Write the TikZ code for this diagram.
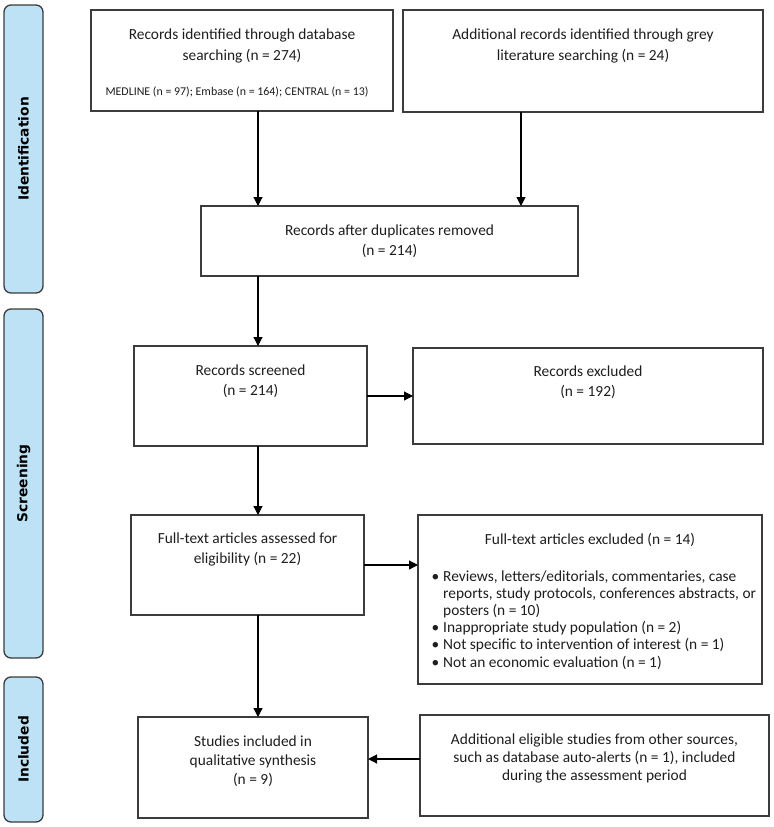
\documentclass[tikz,border=0pt]{standalone}
\usepackage{fontspec}
\setmainfont{Carlito}
\newfontfamily\sidefont{DejaVu Sans}
\usetikzlibrary{arrows.meta,calc}
\definecolor{sidebl}{RGB}{189,226,245}
\definecolor{edgec}{RGB}{60,60,60}
\definecolor{txtc}{RGB}{30,30,30}
\newcommand{\mlines}[1]{\begin{tabular}[t]{@{}c@{}}#1\end{tabular}}
\newcommand{\blines}[1]{\begin{tabular}[t]{@{}l@{}}#1\end{tabular}}
\newcommand{\bul}{\llap{\textbullet\hspace{4bp}}}
\begin{document}
\begin{tikzpicture}[x=1bp,y=-1bp,
  box/.style={draw=edgec,line width=1.3bp,inner sep=0,outer sep=0,anchor=north west},
  side/.style={draw=edgec,line width=1.3bp,fill=sidebl,rounded corners=7bp,inner sep=0,outer sep=0,anchor=north west},
  sidelabel/.style={rotate=90,inner sep=0,font=\sidefont\bfseries\fontsize{13.8bp}{16bp}\selectfont,text=black},
  txt/.style={anchor=base,inner sep=0,text=txtc,font=\fontsize{15.4bp}{20bp}\selectfont},
  arr/.style={-{Triangle[length=9bp,width=9bp]},line width=1.2bp,draw=black}]
\fill[white] (0,0) rectangle (774,827);
\useasboundingbox (0,0) rectangle (774,827);
% side bars
\node[side,minimum width=39bp,minimum height=288bp] (s1) at (4,5) {};
\node[sidelabel] (l1) at (s1.center) {Identification};
\node[side,minimum width=39bp,minimum height=349bp] (s2) at (4,309) {};
\node[sidelabel] (l2) at (s2.center) {Screening};
\node[side,minimum width=39bp,minimum height=145bp] (s3) at (4,677) {};
\node[sidelabel] (l3) at (s3.center) {Included};
% boxes
\node[box,minimum width=302bp,minimum height=101bp] (b1) at (91,10) {};
\node[box,minimum width=360bp,minimum height=102bp] (b2) at (403,10) {};
\node[box,minimum width=377bp,minimum height=70bp] (b3) at (201,206) {};
\node[box,minimum width=233bp,minimum height=100bp] (b4) at (134,346) {};
\node[box,minimum width=350bp,minimum height=96bp] (b5) at (413,348) {};
\node[box,minimum width=233bp,minimum height=100bp] (b6) at (131,515) {};
\node[box,minimum width=344bp,minimum height=169bp] (b7) at (418,515) {};
\node[box,minimum width=230bp,minimum height=101bp] (b8) at (138,717) {};
\node[box,minimum width=349bp,minimum height=101bp] (b9) at (420,715) {};
% texts
\node[txt,font=\fontsize{15.4bp}{21bp}\selectfont] (t1) at (242,39) {\mlines{Records identified through database\\searching (n = 274)}};
\node[txt,font=\fontsize{11.9bp}{14bp}\selectfont] (t1b) at (237,95) {MEDLINE (n = 97); Embase (n = 164); CENTRAL (n = 13)};
\node[txt,font=\fontsize{15.4bp}{21bp}\selectfont] (t2) at (583,39) {\mlines{Additional records identified through grey\\literature searching (n = 24)}};
\node[txt] (t3) at (389.5,235) {\mlines{Records after duplicates removed\\(n = 214)}};
\node[txt] (t4) at (250.5,375) {\mlines{Records screened\\(n = 214)}};
\node[txt] (t5) at (588,376) {\mlines{Records excluded\\(n = 192)}};
\node[txt] (t6) at (247.5,543) {\mlines{Full-text articles assessed for\\eligibility (n = 22)}};
\node[txt] (t7) at (590,544) {Full-text articles excluded (n = 14)};
\node[txt,anchor=base west,font=\fontsize{15.4bp}{17.2bp}\selectfont] (t7b) at (443,581) {\blines{\bul Reviews, letters/editorials, commentaries, case\\reports, study protocols, conferences abstracts, or\\posters (n = 10)\\\bul Inappropriate study population (n = 2)\\\bul Not specific to intervention of interest (n = 1)\\\bul Not an economic evaluation (n = 1)}};
\node[txt,font=\fontsize{15.4bp}{19bp}\selectfont] (t8) at (253,746) {\mlines{Studies included in\\qualitative synthesis\\(n = 9)}};
\node[txt,font=\fontsize{15.4bp}{18bp}\selectfont] (t9) at (594.5,744) {\mlines{Additional eligible studies from other sources,\\such as database auto-alerts (n = 1), included\\during the assessment period}};
% connectors
\coordinate (ax) at (258,0);
\coordinate (bx) at (521,0);
\coordinate (cy) at (0,759);
\draw[arr] (b1.south -| ax) -- (b3.north -| ax);
\draw[arr] (b2.south -| bx) -- (b3.north -| bx);
\draw[arr] (b3.south -| ax) -- (b4.north -| ax);
\draw[arr] (b4.south -| ax) -- (b6.north -| ax);
\draw[arr] (b6.south -| ax) -- (b8.north -| ax);
\draw[arr] (b4.east) -- (b5.west |- b4.east);
\draw[arr] (b6.east) -- (b7.west |- b6.east);
\draw[arr] (b9.west |- cy) -- (b8.east |- cy);
\end{tikzpicture}
\end{document}
